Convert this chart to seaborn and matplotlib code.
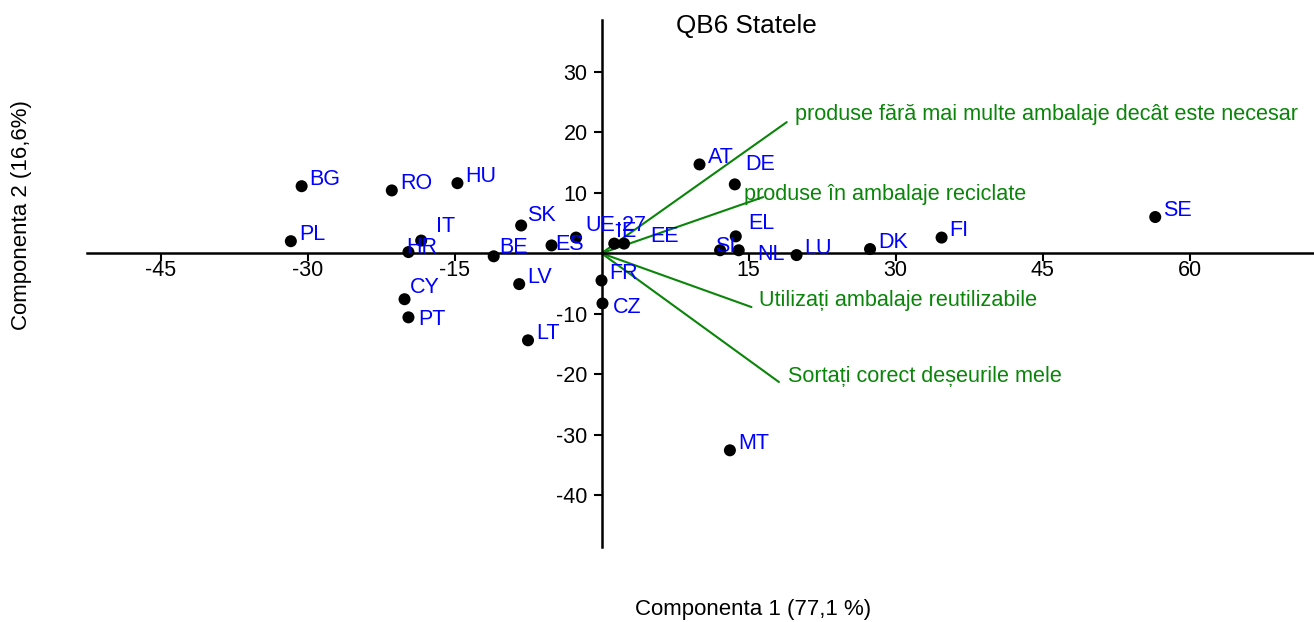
import matplotlib
matplotlib.use("Agg")
import matplotlib.pyplot as plt
import seaborn as sns
import pandas as pd

# tari (scoruri pe primele doua componente)
countries = ["BG", "RO", "HU", "PL", "IT", "HR", "BE", "SK", "ES", "UE-27", "IE", "EE",
             "FR", "CZ", "LV", "LT", "CY", "PT", "AT", "DE", "EL", "SI", "NL", "LU",
             "DK", "FI", "SE", "MT"]
comp1 = [-30.6, -21.4, -14.7, -31.7, -18.4, -19.7, -11.0, -8.2, -5.1, -2.6, 1.3, 2.3,
         0.0, 0.1, -8.4, -7.5, -20.1, -19.7, 10.0, 13.6, 13.7, 12.1, 14.0, 19.9,
         27.4, 34.7, 56.5, 13.1]
comp2 = [11.1, 10.4, 11.6, 2.0, 2.1, 0.2, -0.5, 4.6, 1.3, 2.6, 1.6, 1.6,
         -4.5, -8.3, -5.1, -14.4, -7.6, -10.6, 14.7, 11.4, 2.8, 0.5, 0.5, -0.3,
         0.7, 2.6, 6.0, -32.6]

# variabile (vectori)
variables = ["produse fără mai multe ambalaje decât este necesar",
             "produse în ambalaje reciclate",
             "Utilizați ambalaje reutilizabile",
             "Sortați corect deșeurile mele"]
var1 = [18.9, 16.5, 15.3, 18.1]
var2 = [21.7, 9.3, -8.9, -21.3]

# deplasari etichete (pixeli)
label_offsets = {"IT": (15, 14), "HR": (-2, 5), "ES": (4, 1), "UE-27": (9, 12),
                 "IE": (2, 12), "EE": (26, 7), "CZ": (10, -4), "CY": (5, 12),
                 "PT": (10, -2), "DE": (10, 20), "EL": (12, 13), "SI": (-5, 4),
                 "NL": (19, -4), "SK": (6, 10), "BE": (6, 9)}
var_offsets = [(8, 8), (-19, 3), (8, 7), (9, 6)]

df = pd.DataFrame({"country": countries, "c1": comp1, "c2": comp2})

sns.set_style("white")
plt.rcParams["font.family"] = ["Liberation Sans", "DejaVu Sans"]
plt.rcParams["axes.unicode_minus"] = False

fig = plt.figure(figsize=(13.14, 6.22), dpi=100)
ax = fig.add_axes([87 / 1314, 75 / 622, 1 - 87 / 1314, 527 / 622])

sns.scatterplot(data=df, x="c1", y="c2", color="black", s=75, edgecolor="none",
                ax=ax, zorder=3, clip_on=False)

px = 72 / 100  # pixeli -> puncte
for name, x, y in zip(countries, comp1, comp2):
    dx, dy = label_offsets.get(name, (8, 7))
    ax.annotate(name, (x, y), xytext=(dx * px, dy * px), textcoords="offset points",
                color="#0000ff", fontsize=15.5, ha="left", va="center", zorder=4)

for name, x, y, (dx, dy) in zip(variables, var1, var2, var_offsets):
    ax.plot([0, x], [0, y], color="#0a850a", lw=1.5, zorder=2)
    ax.annotate(name, (x, y), xytext=(dx * px, dy * px), textcoords="offset points",
                color="#0a850a", fontsize=15.6, ha="left", va="center")

ax.set_xlim(-52.5, 72.7)
ax.set_ylim(-48.6, 38.6)

for side in ["top", "right"]:
    ax.spines[side].set_visible(False)
ax.spines["left"].set_position(("data", 0))
ax.spines["bottom"].set_position(("data", 0))
for side in ["left", "bottom"]:
    ax.spines[side].set_linewidth(1.8)
    ax.spines[side].set_color("black")

ax.set_xticks([-45, -30, -15, 15, 30, 45, 60])
ax.set_yticks([-40, -30, -20, -10, 10, 20, 30])
ax.tick_params(axis="both", direction="out", length=6, width=1.5, color="black",
               labelsize=15.5, labelcolor="black", bottom=True, left=True)
ax.tick_params(axis="x", pad=-1.5)
ax.tick_params(axis="y", pad=4)
ax.set_xlabel("")
ax.set_ylabel("")

fig.text(746 / 1314, 1 - 26 / 622, "QB6 Statele", fontsize=18.8, color="black",
         ha="center", va="center")
fig.text(753 / 1314, 1 - 610 / 622, "Componenta 1 (77,1 %)", fontsize=16,
         color="black", ha="center", va="center")
fig.text(22 / 1314, 1 - 215 / 622, "Componenta 2 (16,6%)", fontsize=16,
         color="black", ha="center", va="center", rotation=90)

fig.savefig("out.png", dpi=100)
